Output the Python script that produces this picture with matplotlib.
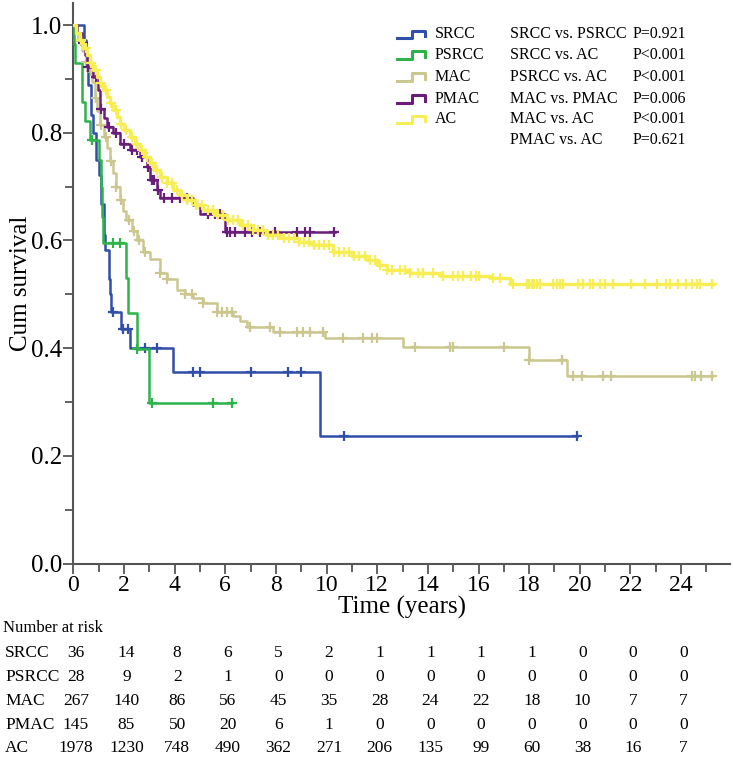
import numpy as np
import matplotlib
matplotlib.use("Agg")
import matplotlib.pyplot as plt
from matplotlib.lines import Line2D
from matplotlib.ticker import MultipleLocator
import matplotlib.transforms as mtransforms

# ------------------------------------------------------------
# data
groups = ["SRCC", "PSRCC", "MAC", "PMAC", "AC"]
colors = ["#2F4FA8", "#2DB34A", "#CCC68F", "#6B1D7C", "#F7EE55"]

srcc_t = [0, 0.42, 0.5, 0.6, 0.7, 0.78, 0.9, 1.0, 1.1, 1.2, 1.25, 1.4, 1.45, 1.5, 1.9, 2.24, 3.95, 9.74]
srcc_s = [1.0, 0.972, 0.944, 0.889, 0.833, 0.80, 0.75, 0.722, 0.667, 0.611, 0.583, 0.528, 0.50, 0.467, 0.435, 0.40, 0.356, 0.237]
srcc_end = 19.9
srcc_cens = [1.58, 1.97, 2.17, 2.83, 3.29, 4.74, 5.0, 7.0, 8.46, 9.0, 10.7, 19.9]

psrcc_t = [0, 0.03, 0.07, 0.33, 0.46, 0.66, 1.03, 1.08, 1.12, 1.16, 2.1, 2.15, 2.53, 3.0]
psrcc_s = [1.0, 0.964, 0.929, 0.857, 0.821, 0.786, 0.75, 0.70, 0.644, 0.595, 0.53, 0.465, 0.398, 0.298]
psrcc_end = 6.25
psrcc_cens = [0.75, 1.58, 1.84, 2.53, 3.1, 5.53, 6.25]

mac_t = [0, 0.1, 0.2, 0.35, 0.5, 0.6, 0.72, 0.85, 0.95, 1.05, 1.2, 1.32, 1.45, 1.58, 1.7, 1.84,
         1.97, 2.1, 2.3, 2.5, 2.76, 3.03, 3.42, 3.69, 4.08, 4.4, 4.74, 5.13, 5.66, 6.32, 6.6, 6.85,
         7.9, 9.94, 13.03, 18.0, 19.48]
mac_s = [1.0, 0.985, 0.97, 0.952, 0.932, 0.915, 0.895, 0.865, 0.84, 0.815, 0.792, 0.772, 0.748,
         0.725, 0.70, 0.676, 0.655, 0.638, 0.618, 0.60, 0.578, 0.565, 0.54, 0.528, 0.508, 0.50,
         0.493, 0.483, 0.468, 0.46, 0.45, 0.44, 0.43, 0.418, 0.403, 0.378, 0.348]
mac_end = 25.2
mac_cens = [0.3, 0.5, 0.7, 0.9, 1.1, 1.3, 1.5, 1.7, 1.9, 2.2, 2.4, 2.6, 2.83, 3.42, 3.69, 4.41,
            4.67, 5.13, 5.66, 5.86, 6.06, 6.25, 6.98, 7.77, 8.16, 8.82, 9.08, 9.34, 9.87, 10.66,
            11.45, 11.78, 11.98, 13.49, 14.87, 15.0, 17.0, 18.0, 19.28, 19.74, 20.07, 20.92,
            21.25, 24.41, 24.54, 24.8, 25.2]

pmac_t = [0, 0.15, 0.33, 0.45, 0.53, 0.79, 0.99, 1.05, 1.2, 1.32, 1.58, 1.84, 2.24, 2.63, 2.9,
          3.03, 3.29, 3.42, 4.74, 5.0, 5.99]
pmac_s = [1.0, 0.986, 0.966, 0.945, 0.922, 0.904, 0.879, 0.845, 0.828, 0.811, 0.799, 0.78,
          0.768, 0.755, 0.737, 0.712, 0.694, 0.678, 0.666, 0.65, 0.616]
pmac_end = 10.33
pmac_cens = [0.4, 0.6, 0.9, 1.1, 1.4, 1.7, 2.0, 2.3, 2.5, 2.7, 2.95, 3.1, 3.2, 3.35, 3.6, 3.9,
             4.2, 4.48, 4.9, 5.3, 5.6, 5.8, 6.06, 6.19, 6.38, 6.78, 7.04, 7.37, 7.96, 8.82,
             9.15, 9.34, 10.3]

ac_t = [0, 0.1, 0.26, 0.4, 0.53, 0.66, 0.79, 0.92, 1.05, 1.18, 1.32, 1.45, 1.58, 1.71, 1.84,
        2.0, 2.24, 2.45, 2.63, 2.85, 3.03, 3.2, 3.42, 3.7, 3.95, 4.2, 4.48, 4.8, 5.13, 5.6, 6.06,
        6.6, 7.1, 7.6, 8.16, 8.9, 9.47, 10.26, 11.0, 11.58, 12.0, 12.37, 13.29, 14.48, 16.45, 17.24]
ac_s = [1.0, 0.986, 0.972, 0.958, 0.944, 0.93, 0.916, 0.904, 0.892, 0.88, 0.867, 0.855, 0.842,
        0.83, 0.817, 0.805, 0.793, 0.78, 0.768, 0.755, 0.743, 0.73, 0.718, 0.706, 0.694, 0.685,
        0.675, 0.665, 0.656, 0.647, 0.638, 0.628, 0.619, 0.611, 0.604, 0.597, 0.591, 0.579,
        0.572, 0.564, 0.555, 0.545, 0.539, 0.534, 0.53, 0.52]
ac_end = 25.27
ac_cens = [0.3, 0.5, 0.7, 0.9, 1.1, 1.3, 1.5, 1.7, 1.9, 2.1, 2.3, 2.5, 2.7, 2.9, 3.1, 3.3, 3.5,
           3.7, 3.9, 4.1, 4.3, 4.5, 4.7, 4.9, 5.1, 5.3, 5.5, 5.7, 5.9, 6.1, 6.3, 6.5, 6.7, 6.9,
           7.1, 7.3, 7.5, 7.7, 7.9, 8.1, 8.3, 8.5, 8.7, 8.9, 9.1, 9.3, 9.5, 9.7, 9.9, 10.1, 10.3,
           10.5, 10.7, 10.9, 11.1, 11.3, 11.5, 11.7, 11.9, 12.1, 12.4, 12.6, 12.9, 13.1, 13.3,
           13.6, 13.8, 14.2, 14.6, 15.0, 15.2, 15.4, 15.7, 15.9, 16.0, 16.59, 16.85, 17.37, 17.9,
           18.0, 18.1, 18.2, 18.3, 18.43, 18.95, 19.1, 19.2, 19.35, 19.94, 20.13, 20.4, 20.53,
           20.8, 20.99, 21.32, 22.04, 22.57, 23.03, 23.42, 23.56, 23.88, 24.21, 24.41, 24.61,
           24.74, 25.2]

compare_labels = ["SRCC vs. PSRCC", "SRCC vs. AC", "PSRCC vs. AC", "MAC vs. PMAC",
                  "MAC vs. AC", "PMAC vs. AC"]
p_values = ["P=0.921", "P<0.001", "P<0.001", "P=0.006", "P<0.001", "P=0.621"]

risk_times = [0, 2, 4, 6, 8, 10, 12, 14, 16, 18, 20, 22, 24]
risk_srcc = [36, 14, 8, 6, 5, 2, 1, 1, 1, 1, 0, 0, 0]
risk_psrcc = [28, 9, 2, 1, 0, 0, 0, 0, 0, 0, 0, 0, 0]
risk_mac = [267, 140, 86, 56, 45, 35, 28, 24, 22, 18, 10, 7, 7]
risk_pmac = [145, 85, 50, 20, 6, 1, 0, 0, 0, 0, 0, 0, 0]
risk_ac = [1978, 1230, 748, 490, 362, 271, 206, 135, 99, 60, 38, 16, 7]

# ------------------------------------------------------------
plt.rcParams['font.family'] = ['Liberation Serif', 'DejaVu Serif']

W, H = 733, 760
fig = plt.figure(figsize=(W / 100, H / 100), dpi=100)

def fx(px):
    return px / W

def fy(py):
    return 1 - py / H

ax = fig.add_axes([fx(73.3), fy(563.5), fx(730) - fx(73.3), fy(3) - fy(563.5)])

curves = [
    (srcc_t, srcc_s, srcc_end, srcc_cens),
    (psrcc_t, psrcc_s, psrcc_end, psrcc_cens),
    (mac_t, mac_s, mac_end, mac_cens),
    (pmac_t, pmac_s, pmac_end, pmac_cens),
    (ac_t, ac_s, ac_end, ac_cens),
]

for (t, s, end, cens), col, name in zip(curves, colors, groups):
    t = np.array(t + [end])
    s = np.array(s + [s[-1]])
    lw = 2.4 if name == "AC" else 1.8
    ax.plot(t, s, drawstyle="steps-post", color=col, lw=lw, zorder=3)
    cens = np.array(cens)
    idx = np.searchsorted(t, cens, side="right") - 1
    idx = np.clip(idx, 0, len(s) - 1)
    ax.plot(cens, s[idx], ls="none", marker="+", ms=7, mew=1.6, color=col, zorder=3)

ax.set_xlim(0, 25.93)
ax.set_ylim(0, 1.041)
ax.xaxis.set_minor_locator(MultipleLocator(1))
ax.yaxis.set_minor_locator(MultipleLocator(0.1))
ax.set_xticks(risk_times)
ax.set_yticks([0, 0.2, 0.4, 0.6, 0.8, 1.0])
ax.set_yticklabels(["0.0", "0.2", "0.4", "0.6", "0.8", "1.0"])
for sp in ["top", "right"]:
    ax.spines[sp].set_visible(False)
for sp in ["left", "bottom"]:
    ax.spines[sp].set_color("#555555")
    ax.spines[sp].set_linewidth(1.5)
ax.tick_params(which="both", direction="out", color="#555555", width=1.3, pad=1)
ax.tick_params(axis="y", labelsize=18)
ax.tick_params(axis="x", labelsize=17)
ax.tick_params(which="major", length=7)
ax.tick_params(which="minor", length=6)
ax.set_xlabel("Time (years)", fontsize=18, labelpad=0)
ax.set_ylabel("Cum survival", fontsize=18, labelpad=-1)

# legend with step icons
row_y = [34, 54.7, 76.7, 98.7, 119, 140]
for name, col, yc in zip(groups, colors, row_y):
    xs = [fx(396.7), fx(411.7), fx(411.7), fx(425), fx(425)]
    ys = [fy(yc + 4.3), fy(yc + 4.3), fy(yc - 3.3), fy(yc - 3.3), fy(yc + 2)]
    fig.add_artist(Line2D(xs, ys, color=col, lw=2.2, transform=fig.transFigure))
    fig.text(fx(435), fy(yc), name, fontsize=11.5, va="center", ha="left")

for lab, p, yc in zip(compare_labels, p_values, row_y):
    fig.text(fx(510), fy(yc), lab, fontsize=11.5, va="center", ha="left")
    fig.text(fx(686), fy(yc), p, fontsize=11.5, va="center", ha="right")

# number at risk table
fig.text(fx(3), fy(628), "Number at risk", fontsize=12, va="center", ha="left")
trans = mtransforms.blended_transform_factory(ax.transData, fig.transFigure)
risk_rows = [risk_srcc, risk_psrcc, risk_mac, risk_pmac, risk_ac]
risk_y = [653, 677, 701, 725, 748]
for name, row, yc in zip(groups, risk_rows, risk_y):
    fig.text(fx(5), fy(yc), name, fontsize=12.5, va="center", ha="left")
    for tt, n in zip(risk_times, row):
        ax.text(tt + 0.1, fy(yc), str(n), fontsize=12.5, va="center", ha="center",
                transform=trans, clip_on=False)

plt.savefig("out.png", dpi=100)
